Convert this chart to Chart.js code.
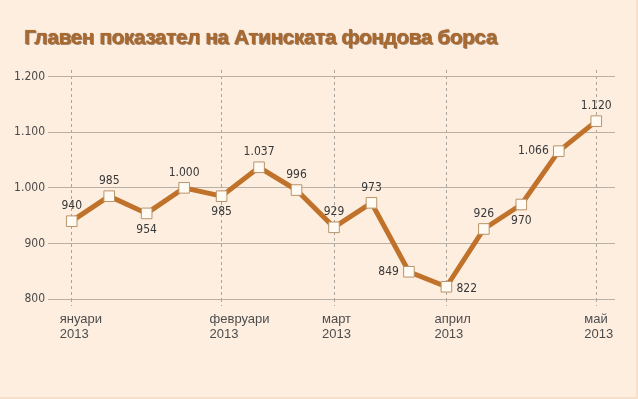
<!DOCTYPE html>
<html>
<head>
<meta charset="utf-8">
<script src="https://cdn.jsdelivr.net/npm/chart.js@4.4.1/dist/chart.umd.min.js"></script>
<style>
  html, body { margin: 0; padding: 0; background: #fdeee0; }
  #wrap { position: relative; width: 638px; height: 399px; box-sizing: border-box; border-right: 2px solid #f6e0cc; border-bottom: 2px solid #f6e0cc; }
  #title {
    position: absolute; left: 24px; top: 26px; margin: 0;
    font: bold 21px "Liberation Sans", Arial, sans-serif; line-height: 21px;
    letter-spacing: -0.5px;
    color: #a9692f;
    text-shadow: 1px 1px 0 rgba(95, 52, 16, 0.55), 0 0 1px rgba(95, 52, 16, 0.6);
  }
  canvas { position: absolute; left: 0; top: 0; }
</style>
</head>
<body>
<div id="wrap">
  <canvas id="indexChart" width="638" height="399"></canvas>
  <div id="title">Главен показател на Атинската фондова борса</div>
</div>
<script>
// index values, Jan - May 2013 (15 readings)
const values = [940, 985, 954, 1000, 985, 1037, 996, 929, 973, 849, 822, 926, 970, 1066, 1120];
// month names shown under the dashed lines, '' for in-between readings
const months = ["януари", "", "", "", "февруари", "", "", "март", "", "", "април", "", "", "", "май"];
const year = "2013";
const yTicks = [800, 900, 1000, 1100, 1200];

const categories = months.map(m => (m ? [m, year] : ""));

// where each value label sits: a = above, b = below, l = left, r = right
const labelSide = ["a", "a", "b", "a", "b", "a", "a", "a", "a", "l", "r", "a", "b", "l", "a"];

function fmt(v) {
  return String(v).replace(/\B(?=(\d{3})+(?!\d))/g, ".");
}

const narrow = "'Liberation Sans Narrow', 'DejaVu Sans Condensed', sans-serif";

const valueLabels = {
  id: "valueLabels",
  afterDatasetsDraw(chart) {
    const ctx = chart.ctx;
    const meta = chart.getDatasetMeta(0);
    ctx.save();
    ctx.font = "12px " + narrow;
    ctx.fillStyle = "#383838";
    ctx.textBaseline = "middle";
    meta.data.forEach((pt, i) => {
      const side = labelSide[i];
      let x = pt.x, y = pt.y;
      ctx.textAlign = "center";
      if (side === "a") y -= 15;
      else if (side === "b") y += 16;
      else if (side === "l") { x -= 10; ctx.textAlign = "right"; }
      else if (side === "r") { x += 10; y += 2; ctx.textAlign = "left"; }
      ctx.fillText(fmt(values[i]), x, y);
    });
    ctx.restore();
  }
};

new Chart(document.getElementById("indexChart"), {
  type: "line",
  data: {
    labels: categories,
    datasets: [{
      data: values,
      borderColor: "#c0722a",
      borderWidth: 5,
      tension: 0,
      pointStyle: "rect",
      pointRadius: 7.5,
      pointHoverRadius: 7.5,
      pointBackgroundColor: "#fffaf2",
      pointBorderColor: "#b8946a",
      pointBorderWidth: 1
    }]
  },
  options: {
    responsive: false,
    animation: false,
    devicePixelRatio: 1,
    layout: { padding: { left: 0, right: 23, top: 70, bottom: 0 } },
    plugins: { legend: { display: false }, tooltip: { enabled: false } },
    scales: {
      x: {
        offset: true,
        border: { display: false, dash: [3, 3] },
        grid: {
          color: (c) => (months[c.index] ? "#aaa49e" : "rgba(0,0,0,0)"),
          tickBorderDash: [3, 3],
          tickLength: 7
        },
        ticks: {
          autoSkip: false,
          maxRotation: 0,
          align: "start",
          labelOffset: -12,
          padding: 6,
          color: "#4d4d4d",
          font: { family: "'Liberation Sans', Arial, sans-serif", size: 13, lineHeight: 1.15 }
        },
        afterFit: (s) => { s.height = 100; }
      },
      y: {
        min: 800,
        max: 1212,
        border: { display: false },
        grid: { color: "#b9afa4", tickLength: 5 },
        ticks: {
          stepSize: 100,
          includeBounds: false,
          padding: 3,
          color: "#4a4a4a",
          font: { family: narrow, size: 12 },
          callback: (v) => (yTicks.includes(v) ? fmt(v) : null)
        },
        afterFit: (s) => { s.width = 53; }
      }
    }
  },
  plugins: [valueLabels]
});
</script>
</body>
</html>
